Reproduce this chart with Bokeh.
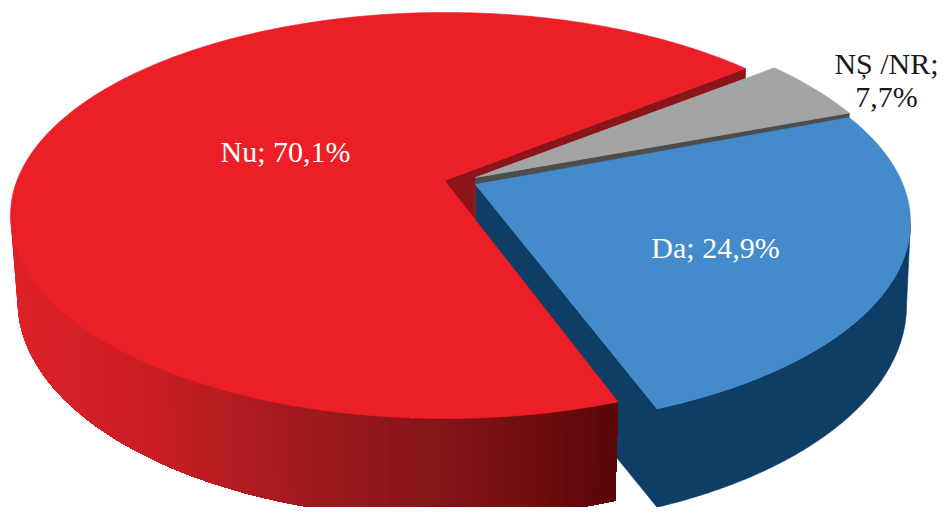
from math import cos, sin, radians
from bokeh.plotting import figure
from bokeh.models import Range1d
from bokeh.core.properties import value
from bokeh.embed import file_html
from bokeh.resources import INLINE

# --- data ---
categories = ["Nu", "Da", "NȘ /NR"]
label_values = [70.1, 24.9, 7.7]
# share of the circle each slice occupies as drawn in the picture (%)
drawn_shares = [68.6, 26.7, 4.4]

# --- geometry / style of the pseudo-3D pie (pixel-like data units) ---
START_ANGLE = 46.4
BLUE_GAP = 1.3
TOP = {"Nu": dict(cx=445, cy=215, rx=435, ry=203),
       "Da": dict(cx=475, cy=222, rx=435, ry=205),
       "NȘ /NR": dict(cx=475, cy=220, rx=435, ry=210)}
BOT = {"Nu": dict(cx=445, cy=300, rx=428, ry=218),
       "Da": dict(cx=478, cy=305, rx=428, ry=222)}
APEX = {"Nu": (444, 180), "Da": (475, 184), "NȘ /NR": (475, 177)}
TOP_COL = {"Nu": "#ed1f26", "Da": "#438bca", "NȘ /NR": "#a3a5a4"}
CUT_COL = {"Nu": "#8b1518", "Da": "#0e3d66", "NȘ /NR": "#4d4d4d"}
WALL_STOPS = [(15, (222, 32, 39)), (150, (200, 31, 36)), (300, (160, 26, 30)),
              (450, (130, 20, 24)), (615, (90, 6, 7))]


def pt(e, t):
    return e["cx"] + e["rx"] * cos(radians(t)), e["cy"] - e["ry"] * sin(radians(t))


def arc(e, t0, t1, n=160):
    return [pt(e, t0 + (t1 - t0) * i / n) for i in range(n + 1)]


def wall_colour(x):
    for (x0, c0), (x1, c1) in zip(WALL_STOPS, WALL_STOPS[1:]):
        if x <= x1:
            f = max(0, (x - x0) / (x1 - x0))
            return "#%02x%02x%02x" % tuple(round(a + (b - a) * f) for a, b in zip(c0, c1))
    return "#%02x%02x%02x" % WALL_STOPS[-1][1]


# angles come from the shares
a0 = START_ANGLE
a_red_end = a0 + drawn_shares[0] * 3.6
a_blue_start = a_red_end + BLUE_GAP
a_blue_end = a_blue_start + drawn_shares[1] * 3.6
a_gray_end = a_blue_end + drawn_shares[2] * 3.6

p = figure(width=939, height=507, output_backend="svg", toolbar_location=None,
           x_range=Range1d(0, 939), y_range=Range1d(507, 0),
           min_border=0, outline_line_color=None)
p.axis.visible = False
p.grid.visible = False
p.background_fill_color = "white"
p.border_fill_color = "white"


def poly(points, colour, line=True):
    xs, ys = zip(*points)
    p.patch(list(xs), list(ys), fill_color=colour,
            line_color=colour if line else None, line_width=0.6)


# --- blue slice: outer wall and cut face as one outline ---
tb, bb = TOP["Da"], BOT["Da"]
ax, ay = APEX["Da"]
poly([(ax, ay)] + arc(tb, a_blue_start, 360) + arc(bb, 360, a_blue_start) + [(ax, ay + 100)],
     CUT_COL["Da"])

# --- red slice: cut face, wall, top ---
tr, br = TOP["Nu"], BOT["Nu"]
ax, ay = APEX["Nu"]
gx, gy = APEX["NȘ /NR"]
sx, sy = pt(tr, a0)
poly([(ax, ay), (sx, sy), (sx, sy + 10), (gx, gy), (gx, gy + 45)], CUT_COL["Nu"])

# painter's order: each strip runs to the slice's end, the next one overlaps it
N = 110
for i in range(N):
    t0 = 180 + (a_red_end - 180) * i / N
    n_pts = max(2, N - i)
    pts = arc(tr, t0, a_red_end, n_pts) + arc(br, a_red_end, t0, n_pts)
    poly(pts, wall_colour(pts[0][0] + 2), line=False)

poly([(ax, ay)] + arc(tr, a0, a_red_end, 300), TOP_COL["Nu"])

# --- gray slice: cut strip and top ---
tg = TOP["NȘ /NR"]
cx1, cy1 = pt(tg, a_blue_end)
poly([(gx, gy), (cx1, cy1), (cx1, cy1 + 7), (gx, gy + 7)], CUT_COL["NȘ /NR"])
poly([(gx, gy)] + arc(tg, a_blue_end, a_gray_end, 60), TOP_COL["NȘ /NR"])

# --- blue slice: top ---
ax, ay = APEX["Da"]
poly([(ax, ay)] + arc(tb, a_blue_start, a_blue_end, 160), TOP_COL["Da"])


# --- labels ---
def fmt(v):
    return f"{v:.1f}".replace(".", ",") + "%"


label_x = [285, 715, 886]
label_y = [151, 247, 79]
texts = [f"{categories[0]}; {fmt(label_values[0])}",
         f"{categories[1]}; {fmt(label_values[1])}",
         f"{categories[2]};\n{fmt(label_values[2])}"]
colours = ["#ffffff", "#ffffff", "#1a1a1a"]
p.text(x=label_x, y=label_y, text=texts, text_color=colours,
       text_font=value("Liberation Serif"), text_font_size="30px",
       text_align="center", text_baseline="middle", text_line_height=1.0)

open("out.html", "w").write(file_html(p, INLINE))
